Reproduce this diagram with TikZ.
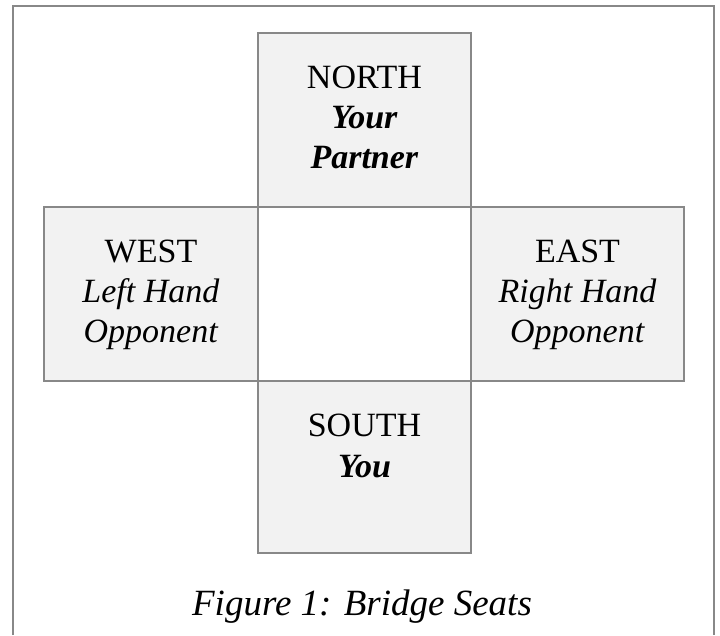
\documentclass[tikz,border=0pt]{standalone}
\usepackage{fontspec}
\setmainfont{Liberation Serif}
\definecolor{linegray}{HTML}{888888}
\definecolor{seatfill}{HTML}{F2F2F2}
\begin{document}
\begin{tikzpicture}[x=1pt,y=1pt,
  seat/.style={draw=linegray, line width=2pt, fill=seatfill, minimum width=213pt, minimum height=174pt, inner sep=0pt, anchor=north west},
  lbl/.style={anchor=base, align=center, inner sep=0pt, font=\fontsize{34}{40}\selectfont},
  frame/.style={draw=linegray, line width=2pt}]
\useasboundingbox (0,0) rectangle (720,635);
\coordinate (fbl) at (13,0);
\coordinate (ftl) at (13,629);
\coordinate (ftr) at (714,629);
\coordinate (fbr) at (714,0);
\draw[frame] (fbl) -- (ftl) -- (ftr) -- (fbr);
\node[seat] (north) at (257,603) {};
\node[seat, minimum width=214pt] (west) at (43,429) {};
\node[seat, fill=white] (center) at (257,429) {};
\node[seat] (east) at (470,429) {};
\node[seat, minimum height=172pt] (south) at (257,255) {};
\node[lbl] (northtxt) at ([yshift=-137pt]north.north) {NORTH\\\textbf{\textit{Your}}\\\textbf{\textit{Partner}}};
\node[lbl] (westtxt) at ([yshift=-137pt]west.north) {WEST\\\textit{Left Hand}\\\textit{Opponent}};
\node[lbl] (easttxt) at ([yshift=-137pt]east.north) {EAST\\\textit{Right Hand}\\\textit{Opponent}};
\node[lbl] (southtxt) at ([yshift=-97pt]south.north) {SOUTH\\\textbf{\textit{You}}};
\node[anchor=base, inner sep=0pt, font=\fontsize{37}{44}\selectfont\itshape] (caption) at (362,20) {Figure 1: Bridge Seats};
\end{tikzpicture}
\end{document}
